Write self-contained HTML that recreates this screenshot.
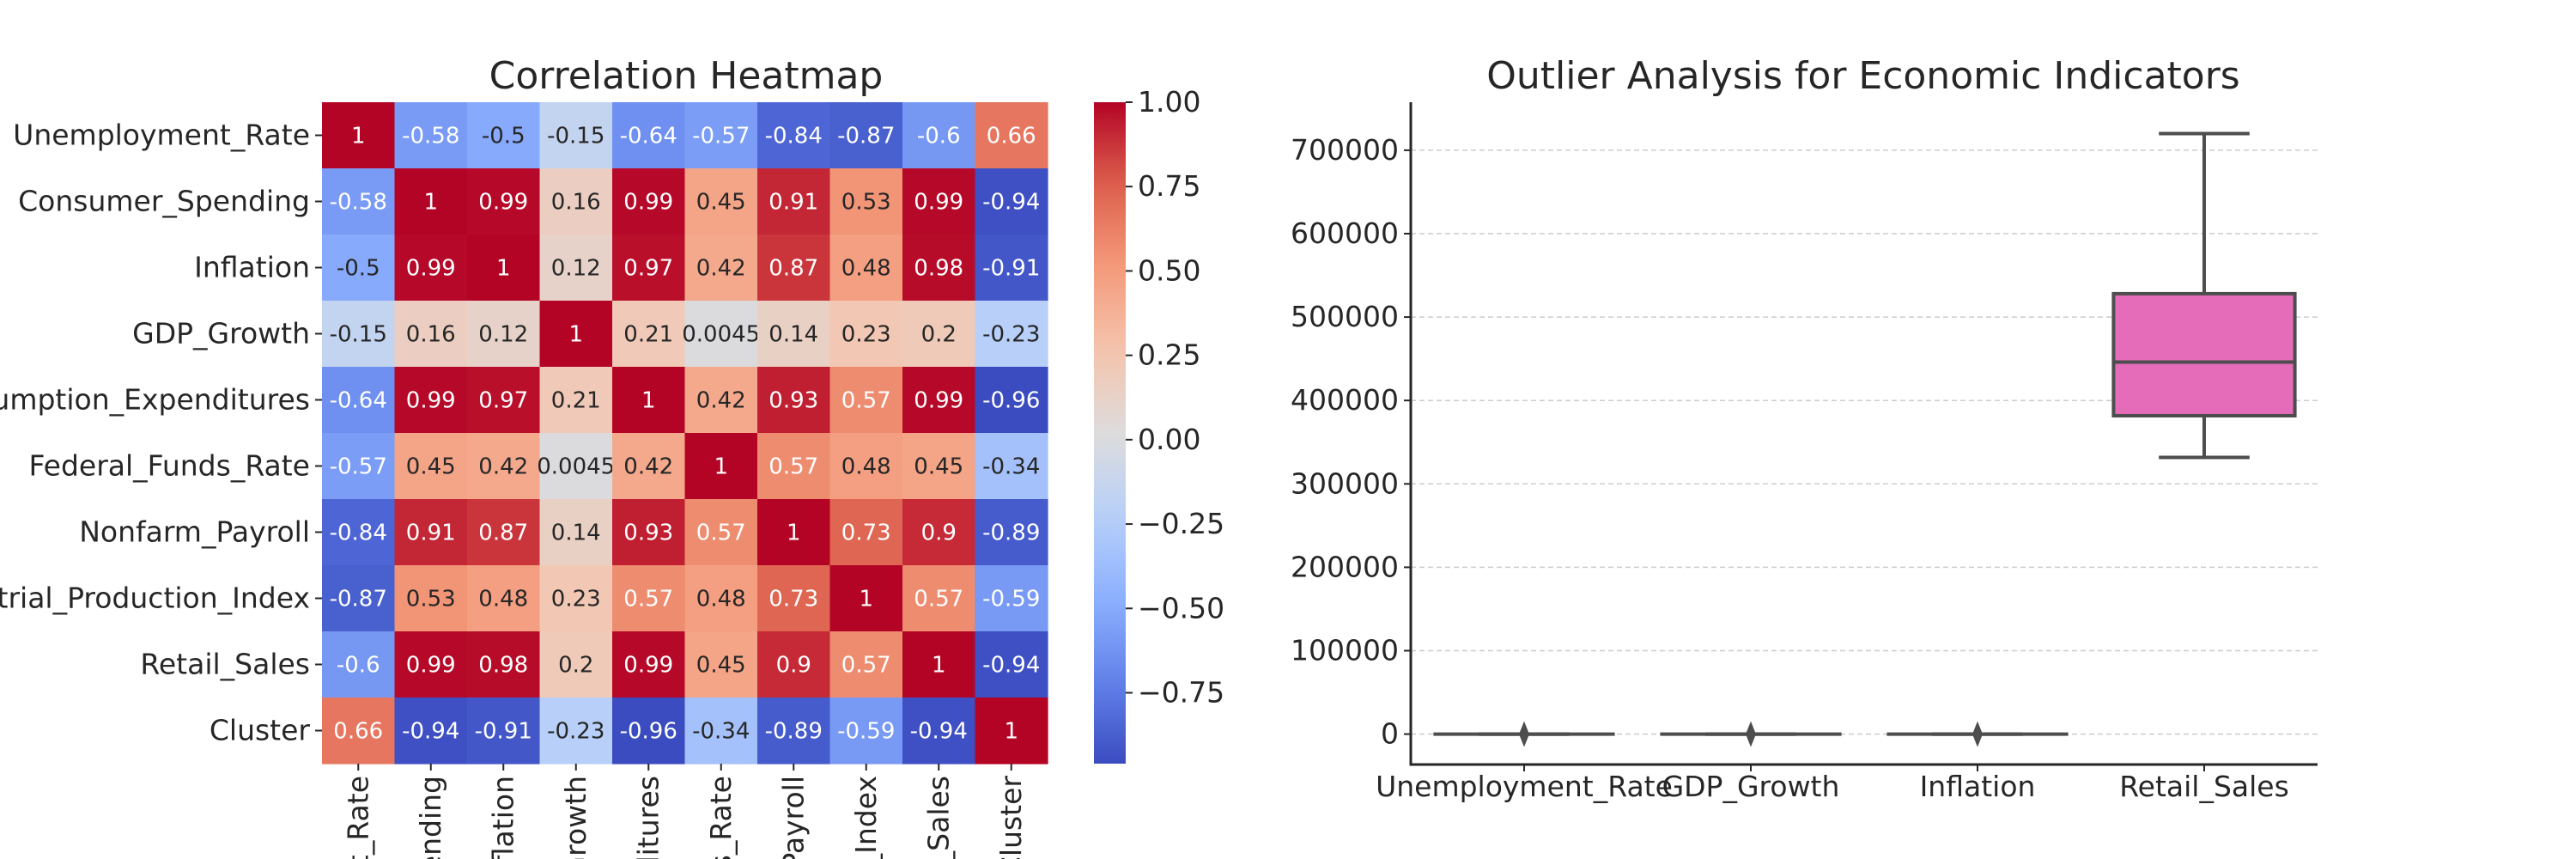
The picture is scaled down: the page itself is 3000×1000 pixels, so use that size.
<!DOCTYPE html>
<html><head><meta charset="utf-8"><style>
html,body{margin:0;padding:0;background:#fff;width:3000px;height:1000px;overflow:hidden}
svg{display:block;font-family:"DejaVu Sans","Liberation Sans",sans-serif;overflow:hidden}
</style></head><body>
<svg id="fig" width="3000" height="1000" viewBox="0 0 3000 1000">
<defs><clipPath id="frame"><rect x="0" y="0" width="3000" height="1000"/></clipPath></defs>
<g clip-path="url(#frame)">
<g id="heat"></g>
<g id="box"></g>
</g>
</svg>
<script>
const names = ["Unemployment_Rate","Consumer_Spending","Inflation","GDP_Growth","Personal_Consumption_Expenditures","Federal_Funds_Rate","Nonfarm_Payroll","Industrial_Production_Index","Retail_Sales","Cluster"];
const corr = [
[1,-0.58,-0.5,-0.15,-0.64,-0.57,-0.84,-0.87,-0.6,0.66],
[-0.58,1,0.99,0.16,0.99,0.45,0.91,0.53,0.99,-0.94],
[-0.5,0.99,1,0.12,0.97,0.42,0.87,0.48,0.98,-0.91],
[-0.15,0.16,0.12,1,0.21,0.0045,0.14,0.23,0.2,-0.23],
[-0.64,0.99,0.97,0.21,1,0.42,0.93,0.57,0.99,-0.96],
[-0.57,0.45,0.42,0.0045,0.42,1,0.57,0.48,0.45,-0.34],
[-0.84,0.91,0.87,0.14,0.93,0.57,1,0.73,0.9,-0.89],
[-0.87,0.53,0.48,0.23,0.57,0.48,0.73,1,0.57,-0.59],
[-0.6,0.99,0.98,0.2,0.99,0.45,0.9,0.57,1,-0.94],
[0.66,-0.94,-0.91,-0.23,-0.96,-0.34,-0.89,-0.59,-0.94,1]];
const cbTicks = [1.0,0.75,0.5,0.25,0,-0.25,-0.5,-0.75];
const boxCats = ["Unemployment_Rate","GDP_Growth","Inflation","Retail_Sales"];
const boxMin = [0,0,0,331700];
const boxQ1 = [0,0,0,381700];
const boxMed = [0,0,0,446000];
const boxQ3 = [0,0,0,528000];
const boxMax = [0,0,0,720000];
const boxOutlier = [0,0,0,null];
const yTicks = [0,100000,200000,300000,400000,500000,600000,700000];

const NS="http://www.w3.org/2000/svg";
function mk(parent,tag,attrs,text){const e=document.createElementNS(NS,tag);for(const k in attrs)e.setAttribute(k,attrs[k]);if(text!==undefined)e.textContent=text;parent.appendChild(e);return e;}
const stops=[[0,[59,76,192]],[0.125,[98,130,234]],[0.25,[141,176,254]],[0.375,[184,208,249]],[0.5,[221,220,220]],[0.625,[245,196,173]],[0.75,[244,154,123]],[0.875,[221,96,77]],[1,[180,4,38]]];
function cmap(t){t=Math.max(0,Math.min(1,t));for(let i=1;i<stops.length;i++){if(t<=stops[i][0]){const a=stops[i-1],b=stops[i];const f=(t-a[0])/(b[0]-a[0]);return a[1].map((v,j)=>Math.round(v+(b[1][j]-v)*f));}}return stops[stops.length-1][1];}
function lum(c){const l=c.map(v=>{v/=255;return v<=0.03928?v/12.92:Math.pow((v+0.055)/1.055,2.4)});return 0.2126*l[0]+0.7152*l[1]+0.0722*l[2];}
const vmin=-0.96,vmax=1;
const FS=33;
const H=document.getElementById('heat');
const hx0=375,hx1=1220,hy0=119,hy1=889;
const n=names.length,cw=(hx1-hx0)/n,ch=(hy1-hy0)/n;
const hxs=i=>hx0+i*cw, hys=i=>hy0+i*ch;
const t1=mk(H,'text',{x:799,y:103,'text-anchor':'middle','font-size':44,fill:'#262626'},'Correlation Heatmap');

for(let r=0;r<n;r++)for(let c=0;c<n;c++){
 const v=corr[r][c];const col=cmap((v-vmin)/(vmax-vmin));
 const rc=mk(H,'rect',{x:hxs(c),y:hys(r),width:cw+0.6,height:ch+0.6,fill:`rgb(${col})`});
 
 const tx=mk(H,'text',{x:hxs(c)+cw/2,y:hys(r)+ch/2+9,'text-anchor':'middle','font-size':26,fill:lum(col)>0.408?'#262626':'#ffffff'},String(v));
 
}
for(let i=0;i<n;i++){
 mk(H,'line',{x1:hx0-8,x2:hx0,y1:hys(i)+ch/2,y2:hys(i)+ch/2,stroke:'#262626','stroke-width':2});
 const yl=mk(H,'text',{x:hx0-14,y:hys(i)+ch/2+11,'text-anchor':'end','font-size':FS,fill:'#262626'},names[i]);
 
 const cx=hxs(i)+cw/2;
 mk(H,'line',{x1:cx,x2:cx,y1:hy1,y2:hy1+8,stroke:'#262626','stroke-width':2});
 const xl=mk(H,'text',{x:0,y:0,transform:`translate(${cx+11},${hy1+14}) rotate(-90)`,'text-anchor':'end','font-size':FS,fill:'#262626'},names[i]);
 
}
const cbx=1274,cbw=37,cby0=119,cby1=889;
const cbs=v=>cby0+(vmax-v)/(vmax-vmin)*(cby1-cby0);
const defs=mk(H,'defs',{});const lg=mk(defs,'linearGradient',{id:'cbg',x1:0,y1:1,x2:0,y2:0});
for(let i=0;i<=20;i++){const c=cmap(i/20);mk(lg,'stop',{offset:i/20,'stop-color':`rgb(${c})`});}
const cb=mk(H,'rect',{x:cbx,y:cby0,width:cbw,height:cby1-cby0,fill:'url(#cbg)'});

cbTicks.forEach(v=>{const y=cbs(v);mk(H,'line',{x1:cbx+cbw,x2:cbx+cbw+8,y1:y,y2:y,stroke:'#262626','stroke-width':2});
 const t=mk(H,'text',{x:cbx+cbw+14,y:y+11,'font-size':FS,fill:'#262626'},(v<0?'\u2212':'')+Math.abs(v).toFixed(2));
 });
const B=document.getElementById('box');
const bx0=1643,bx1=2699,by0=119,by1=890;
const ys=v=>854.6-v/100000*97.1;
const band=(bx1-bx0)/boxCats.length;
const xs=i=>bx0+band*(i+0.5);
const t2=mk(B,'text',{x:2170,y:103,'text-anchor':'middle','font-size':44,fill:'#262626'},'Outlier Analysis for Economic Indicators');

yTicks.forEach(v=>{const y=ys(v);
 const g=mk(B,'line',{x1:bx0,x2:bx1,y1:y,y2:y,stroke:'#cccccc','stroke-width':1.5,'stroke-dasharray':'6,4'});
 
 mk(B,'line',{x1:bx0-8,x2:bx0,y1:y,y2:y,stroke:'#262626','stroke-width':2});
 const t=mk(B,'text',{x:bx0-14,y:y+11,'text-anchor':'end','font-size':FS,fill:'#262626'},String(v));
 });
const colors=['#4c72b0','#dd8452','#55a868','#e46cb9'];
const bw=band*0.8,lc='#4d4d4d';
boxCats.forEach((c,i)=>{const x=xs(i);
 mk(B,'line',{x1:x,x2:x,y1:ys(boxMax[i]),y2:ys(boxQ3[i]),stroke:lc,'stroke-width':4});
 mk(B,'line',{x1:x,x2:x,y1:ys(boxQ1[i]),y2:ys(boxMin[i]),stroke:lc,'stroke-width':4});
 mk(B,'line',{x1:x-bw/4,x2:x+bw/4,y1:ys(boxMax[i]),y2:ys(boxMax[i]),stroke:lc,'stroke-width':4});
 mk(B,'line',{x1:x-bw/4,x2:x+bw/4,y1:ys(boxMin[i]),y2:ys(boxMin[i]),stroke:lc,'stroke-width':4});
 const r=mk(B,'rect',{x:x-bw/2,y:ys(boxQ3[i]),width:bw,height:Math.max(0,ys(boxQ1[i])-ys(boxQ3[i])),fill:colors[i],stroke:lc,'stroke-width':4});
 
 mk(B,'line',{x1:x-bw/2,x2:x+bw/2,y1:ys(boxMed[i]),y2:ys(boxMed[i]),stroke:lc,'stroke-width':4});
 if(boxOutlier[i]!==null){const y=ys(boxOutlier[i]);
  const d=mk(B,'path',{d:`M${x},${y-15}L${x+6},${y}L${x},${y+15}L${x-6},${y}Z`,fill:lc});
  }
 mk(B,'line',{x1:x,x2:x,y1:by1,y2:by1+8,stroke:'#262626','stroke-width':2});
 const t=mk(B,'text',{x:x,y:by1+37,'text-anchor':'middle','font-size':FS,fill:'#262626'},c);
 
});
const ax=mk(B,'path',{d:`M${bx0},${by0}V${by1}H${bx1}`,fill:'none',stroke:'#262626','stroke-width':3});

</script>
</body></html>
